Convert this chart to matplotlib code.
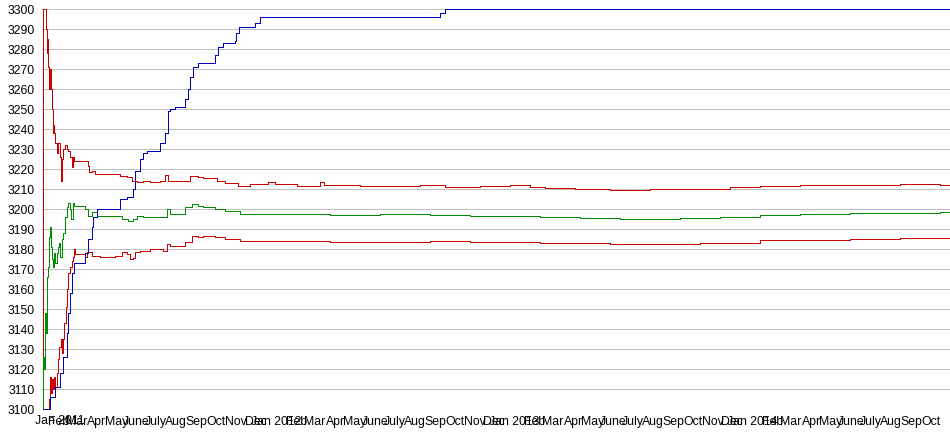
import pandas as pd
import matplotlib
matplotlib.use("Agg")
import matplotlib.pyplot as plt
import matplotlib.transforms as mtransforms

plt.rcParams["font.family"] = ["Liberation Sans", "DejaVu Sans"]

# days counted from 2011-01-01
start = pd.Timestamp("2011-01-01")
first_day = 6
last_day = 1399

upper_days = [7, 8, 11, 12, 13, 14, 15, 17, 18, 20, 21, 23, 24, 25, 26, 29, 31, 34, 35, 37, 38, 41,
              44, 46, 49, 52, 54, 55, 72, 77, 78, 83, 87, 118, 126, 137, 144, 152, 161, 172, 187,
              195, 199, 233, 245, 253, 275, 287, 307, 325, 353, 363, 397, 433, 439, 494, 586, 624,
              678, 724, 755, 778, 824, 877, 939, 1015, 1061, 1107, 1169, 1245, 1322, 1383, 1399]
upper_vals = [3100, 3300, 3300, 3290, 3278, 3285, 3271, 3260, 3270, 3260, 3250, 3238, 3242, 3238,
              3233, 3228, 3233, 3226, 3214, 3225, 3230, 3232, 3230, 3229, 3226, 3221, 3226, 3224,
              3224, 3221.5, 3218.5, 3219, 3217.5, 3217.5, 3216.5, 3216, 3214, 3213.5, 3214, 3213.5,
              3214, 3217, 3214, 3216.5, 3216, 3215.5, 3214, 3213, 3211.5, 3212.5, 3213.5, 3212.5,
              3211.5, 3213.5, 3212, 3211.5, 3212, 3211, 3211.5, 3212, 3211, 3210.5, 3210, 3209.5,
              3210, 3210, 3211, 3211.5, 3212, 3212, 3212.5, 3212, 3212]

mid_days = [7, 8, 9, 11, 12, 13, 14, 15, 17, 18, 20, 21, 23, 25, 26, 29, 31, 32, 34, 37, 38, 41, 44,
            46, 49, 51, 54, 55, 67, 72, 77, 83, 90, 118, 129, 138, 146, 152, 161, 192, 198, 202,
            221, 225, 236, 245, 253, 271, 287, 305, 310, 402, 448, 525, 601, 663, 770, 831, 893,
            985, 1046, 1107, 1169, 1245, 1322, 1383, 1399]
mid_vals = [3100, 3126, 3120, 3148, 3138, 3158, 3166, 3171, 3186, 3191, 3181, 3175, 3171, 3178, 3173,
            3178, 3181, 3183, 3176, 3185, 3188, 3196, 3201, 3203, 3200, 3195, 3203, 3201.5, 3201.5,
            3200, 3196.5, 3198.5, 3196.5, 3196.5, 3195, 3194, 3195, 3196.5, 3196, 3196, 3200,
            3197.5, 3197.5, 3201, 3202.5, 3201.5, 3201, 3200, 3199, 3199, 3197.5, 3197.5, 3197,
            3197.5, 3197, 3196.5, 3196, 3195.5, 3195, 3195.5, 3196, 3197, 3197.5, 3198, 3198,
            3198.5, 3198.5]

lower_days = [7, 15, 17, 18, 20, 21, 23, 25, 26, 29, 31, 32, 35, 37, 38, 40, 43, 44, 46, 49, 52, 54,
              55, 57, 72, 75, 83, 95, 118, 129, 137, 141, 146, 149, 156, 172, 192, 198, 202, 225,
              236, 245, 253, 271, 287, 310, 402, 448, 601, 663, 770, 877, 1015, 1107, 1169, 1245,
              1322, 1399]
lower_vals = [3100, 3100, 3105, 3116, 3108, 3115, 3110, 3116, 3111, 3118, 3125, 3131, 3135, 3128,
              3135, 3143, 3151, 3160, 3168, 3171, 3174, 3176, 3180, 3177.5, 3176, 3178.5, 3176.5,
              3176, 3176.5, 3178.5, 3177.5, 3175, 3175.5, 3178.5, 3179, 3180, 3179, 3182.5, 3181.5,
              3183.5, 3186.5, 3186, 3186.5, 3186, 3185, 3184, 3184, 3183.5, 3184, 3183.5, 3183,
              3182.5, 3183, 3184.5, 3184.5, 3185, 3185.5, 3185.5]

blue_days = [8, 18, 26, 34, 38, 44, 46, 49, 52, 55, 67, 72, 77, 83, 84, 90, 121, 126, 137, 146, 149,
             156, 161, 167, 183, 187, 195, 199, 202, 210, 221, 225, 230, 233, 238, 245, 267, 271,
             276, 284, 302, 304, 308, 328, 333, 340, 612, 617, 624, 1399]
blue_vals = [3100, 3106, 3111, 3118, 3126, 3138, 3148, 3158, 3168, 3173, 3173, 3178, 3185, 3191,
             3196, 3200, 3200, 3205, 3206, 3210, 3219, 3225, 3228, 3229, 3229, 3233, 3238, 3249,
             3250, 3251, 3251, 3255, 3260, 3266, 3271, 3273, 3273, 3277, 3281, 3283, 3284, 3288,
             3291, 3291, 3293, 3296, 3296, 3298, 3300, 3300]

month_names = ["Jan", "Feb", "Mar", "Apr", "May", "June", "July", "Aug", "Sep", "Oct", "Nov", "Dec"]


def to_dates(days):
    return start + pd.to_timedelta(days, unit="D")


fig = plt.figure(figsize=(9.5, 4.35), dpi=100)
ax = fig.add_axes([42 / 950, 25 / 435, 908 / 950, 400 / 435])

line_kw = dict(lw=0.72, drawstyle="steps-post", clip_on=False, antialiased=False)
ax.plot(to_dates(upper_days), upper_vals, color="#cc0000", **line_kw)
ax.plot(to_dates(lower_days), lower_vals, color="#cc0000", **line_kw)
ax.plot(to_dates(mid_days), mid_vals, color="#008c00", **line_kw)
ax.plot(to_dates(blue_days), blue_vals, color="#0000c0", **line_kw)

x0 = start + pd.Timedelta(days=first_day)
ax.set_xlim(x0, start + pd.Timedelta(days=last_day))
ax.set_ylim(3100, 3300)
ax.set_yticks(range(3100, 3301, 10))

# month ticks; the first year label sits at the left edge of the plot
months = pd.date_range("2011-02-01", start + pd.Timedelta(days=last_day), freq="MS")
labels = []
for m in months:
    if m.month == 1:
        labels.append("Jan %d" % m.year)
    else:
        labels.append(month_names[m.month - 1])
ax.set_xticks(list(months))
ax.set_xticklabels(labels, fontsize=8.8)
shift = mtransforms.ScaledTranslation(-7 / 100, -5 / 100, fig.dpi_scale_trans)
ax.text(x0, 0, "Jan 2011", fontsize=8.8, ha="left", va="top",
        transform=ax.get_xaxis_transform() + shift)

ax.tick_params(axis="both", length=0, colors="#000000")
ax.tick_params(axis="y", labelsize=8.7, pad=5)
ax.tick_params(axis="x", pad=4)
ax.grid(axis="y", color="#c0c0c0", lw=0.72, antialiased=False)
ax.set_axisbelow(True)
for s in ax.spines.values():
    s.set_visible(False)

fig.savefig("out.png", dpi=100)
